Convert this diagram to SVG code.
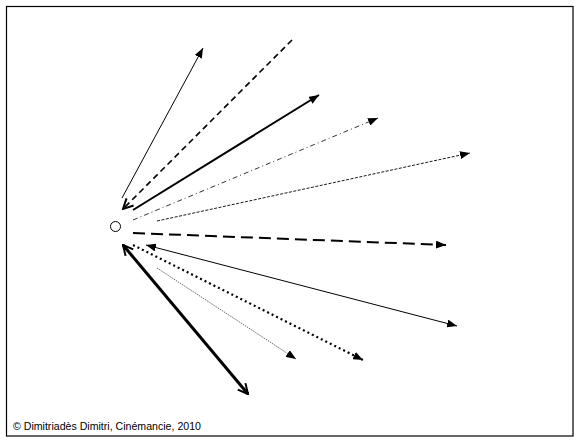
<svg xmlns="http://www.w3.org/2000/svg" width="580" height="443" viewBox="0 0 580 443">
<style>
.l{fill:none;stroke:#000}
.t{font-family:"Liberation Sans",Arial,sans-serif;font-size:10.6px;fill:#000}
</style>
<defs>
<marker id="tri" markerUnits="userSpaceOnUse" viewBox="0 0 10 8" refX="10" refY="4" markerWidth="10" markerHeight="8" orient="auto-start-reverse">
<path d="M0,0 L10,4 L0,8 Z" fill="#000"/>
</marker>
<marker id="vee" markerUnits="userSpaceOnUse" viewBox="0 0 12 12" refX="11" refY="6" markerWidth="12" markerHeight="12" orient="auto-start-reverse">
<path d="M1,1 L11,6 L1,11" fill="none" stroke="#000" stroke-width="2"/>
</marker>
</defs>
<rect x="6.5" y="6.5" width="566.5" height="429.5" fill="#fff" stroke="#000" stroke-width="1.2"/>
<g id="origin"><circle cx="115.5" cy="226.5" r="5" fill="#fff" stroke="#000" stroke-width="1"/></g>
<g id="connectors">
<line class="l" x1="122" y1="198" x2="203" y2="48" stroke-width="1" marker-end="url(#tri)"/>
<line class="l" x1="292" y1="40" x2="123" y2="209" stroke-width="1.6" stroke-dasharray="6,4" marker-end="url(#vee)"/>
<line class="l" x1="133" y1="210" x2="319" y2="95" stroke-width="2" marker-end="url(#tri)"/>
<line class="l" x1="133" y1="220" x2="378" y2="118" stroke-width="0.8" stroke-dasharray="5,3,1,3" marker-end="url(#tri)"/>
<line class="l" x1="157" y1="221" x2="470" y2="153" stroke-width="0.9" stroke-dasharray="3,1.5" marker-end="url(#tri)"/>
<line class="l" x1="133" y1="233" x2="446" y2="245" stroke-width="2" stroke-dasharray="12,6" marker-end="url(#tri)"/>
<line class="l" x1="146" y1="245" x2="457" y2="326" stroke-width="1" marker-start="url(#tri)" marker-end="url(#tri)"/>
<line class="l" x1="133" y1="245" x2="363" y2="360" stroke-width="2.2" stroke-dasharray="2,3" marker-end="url(#tri)"/>
<line class="l" x1="157" y1="268" x2="296" y2="359" stroke-width="0.6" stroke-dasharray="1.5,1" marker-end="url(#tri)"/>
<line class="l" x1="123" y1="245" x2="248" y2="394" stroke-width="3" marker-start="url(#vee)" marker-end="url(#vee)"/>
</g>
<text class="t" x="13" y="430">© Dimitriadès Dimitri, Cinémancie, 2010</text>
</svg>
